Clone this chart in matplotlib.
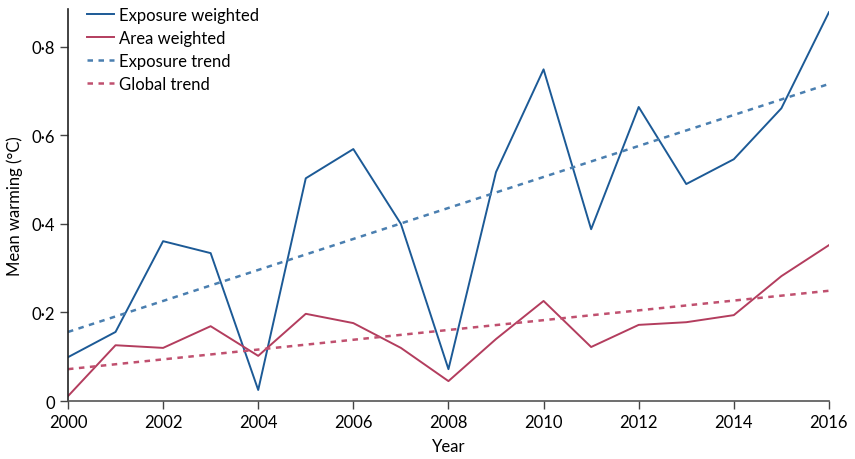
import numpy as np
import matplotlib
matplotlib.use("Agg")
import matplotlib.pyplot as plt
from matplotlib.ticker import FuncFormatter

plt.rcParams['font.family'] = ['Lato', 'DejaVu Sans']

years = np.arange(2000, 2017)
exposure_weighted = [0.099, 0.156, 0.361, 0.334, 0.025, 0.503, 0.569, 0.400, 0.072,
                     0.517, 0.749, 0.388, 0.664, 0.490, 0.546, 0.661, 0.878]
area_weighted = [0.011, 0.126, 0.120, 0.169, 0.102, 0.197, 0.176, 0.120, 0.045,
                 0.140, 0.226, 0.122, 0.172, 0.178, 0.194, 0.282, 0.352]
exposure_trend_ends = [0.156, 0.716]
global_trend_ends = [0.072, 0.249]
trend_years = [2000, 2016]

blue = '#1c5a96'
red = '#b33d5e'
blue_light = '#4a7fb0'
red_light = '#c0506f'

fig = plt.figure(figsize=(8.55, 4.6), dpi=100)
ax = fig.add_axes([0.0795, 0.126, 0.89, 0.852])

ax.plot(years, exposure_weighted, color=blue, lw=1.4, label='Exposure weighted')
ax.plot(years, area_weighted, color=red, lw=1.4, label='Area weighted')
ax.plot(trend_years, exposure_trend_ends, color=blue_light, lw=1.8, ls=(0, (2.2, 2.2)), label='Exposure trend')
ax.plot(trend_years, global_trend_ends, color=red_light, lw=1.8, ls=(0, (2.2, 2.2)), label='Global trend')

ax.set_xlim(2000, 2016)
ax.set_ylim(0, 0.885)
ax.set_xticks(np.arange(2000, 2017, 2))
ax.set_yticks([0, 0.2, 0.4, 0.6, 0.8])
ax.yaxis.set_major_formatter(FuncFormatter(lambda v, p: '0' if v == 0 else ('%.1f' % v).replace('.', '·')))

for s in ['top', 'right']:
    ax.spines[s].set_visible(False)
ax.spines['left'].set_color('#222222')
ax.spines['bottom'].set_color('#555555')
ax.spines['left'].set_linewidth(1.2)
ax.spines['bottom'].set_linewidth(1.2)
ax.tick_params(axis='both', labelsize=12, length=6, width=1.0, color='#444444', direction='out')
ax.tick_params(axis='x', pad=3)

ax.set_xlabel('Year', fontsize=12, labelpad=6)
ax.set_ylabel('Mean warming (°C)', fontsize=12, labelpad=6)

ax.legend(loc='upper left', bbox_to_anchor=(0.01, 1.035), frameon=False, fontsize=12,
          handlelength=1.6, handletextpad=0.3, labelspacing=0.42, borderpad=0.2)

fig.savefig('out.png', dpi=100)
